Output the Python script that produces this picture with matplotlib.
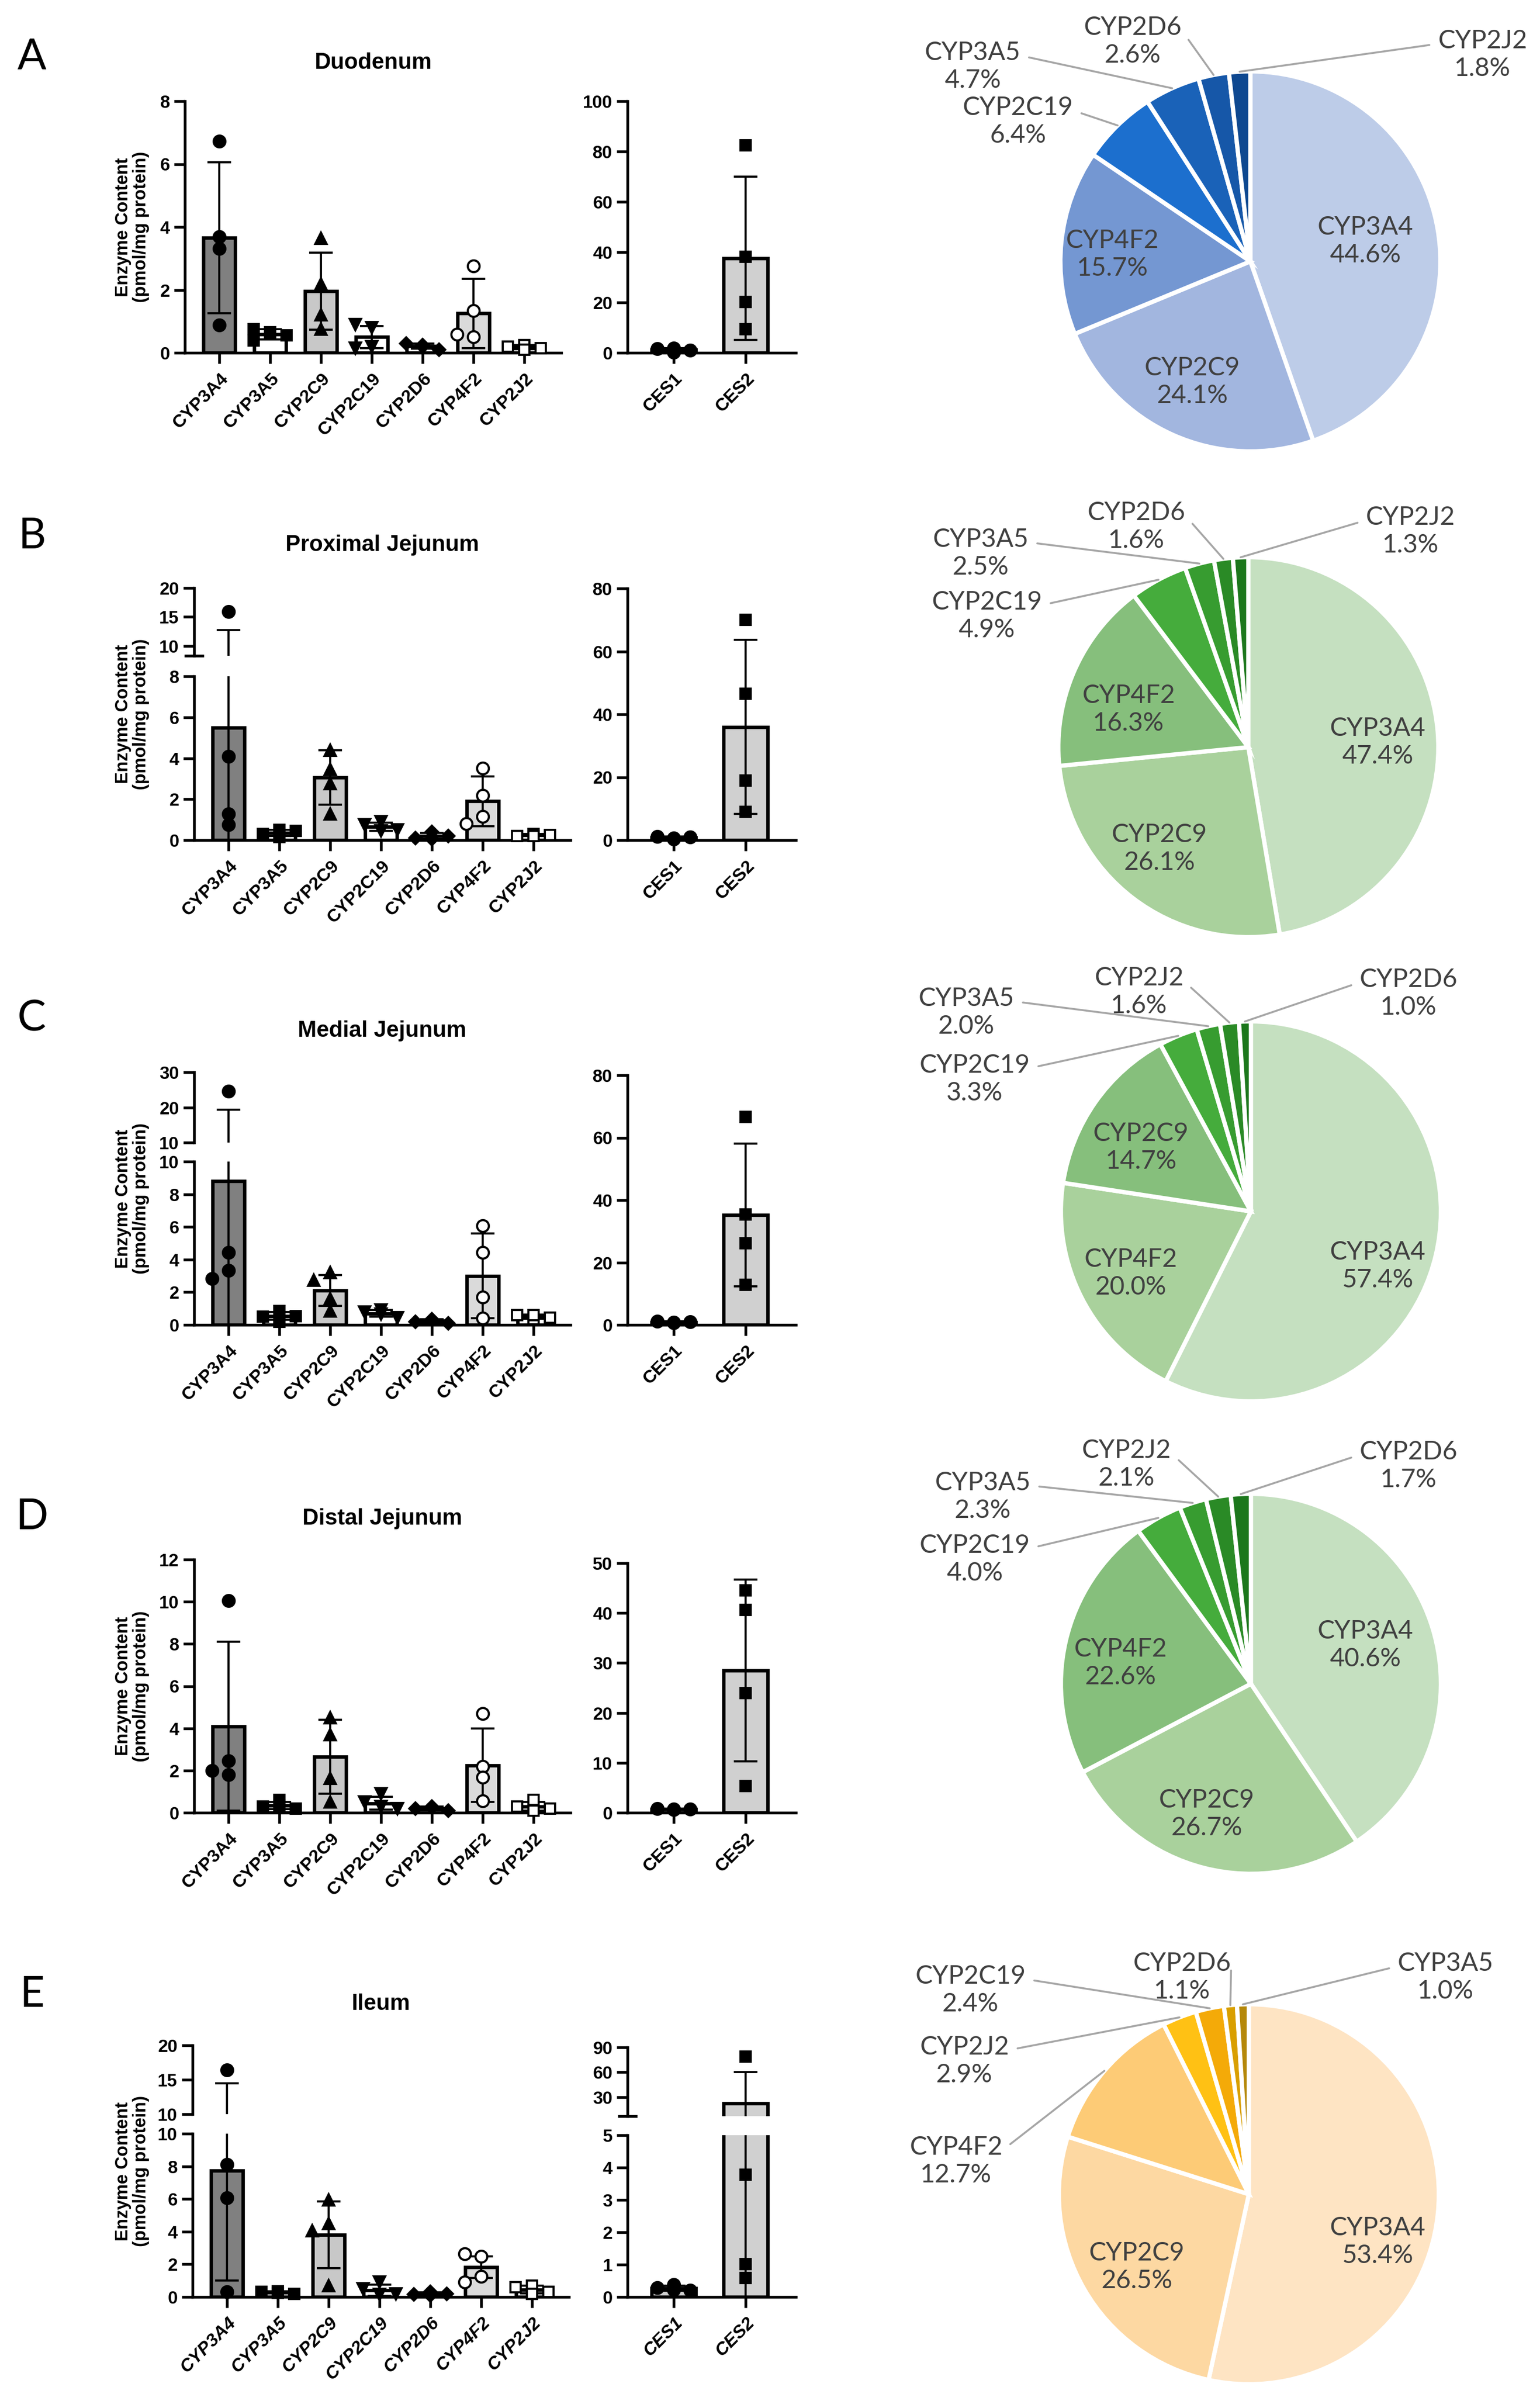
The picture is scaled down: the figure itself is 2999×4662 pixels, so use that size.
import numpy as np
import matplotlib
matplotlib.use("Agg")
import matplotlib.pyplot as plt

plt.rcParams['font.family'] = ['Liberation Sans', 'DejaVu Sans']

# ---------------- data ----------------
cyp_names = ['CYP3A4', 'CYP3A5', 'CYP2C9', 'CYP2C19', 'CYP2D6', 'CYP4F2', 'CYP2J2']
ces_names = ['CES1', 'CES2']
region_titles = ['Duodenum', 'Proximal Jejunum', 'Medial Jejunum', 'Distal Jejunum', 'Ileum']
panel_letters = ['A', 'B', 'C', 'D', 'E']

# Duodenum
duo_cyp_mean = [3.65, 0.59, 1.96, 0.50, 0.21, 1.25, 0.18]
duo_cyp_sd = [2.40, 0.16, 1.23, 0.35, 0.08, 1.10, 0.07]
duo_cyp_pts = [[6.72, 3.69, 3.31, 0.88], [0.65, 0.40, 0.55, 0.75], [3.64, 2.18, 1.21, 0.75],
               [0.80, 0.90, 0.20, 0.15], [0.25, 0.30, 0.10, 0.20], [2.76, 1.34, 0.50, 0.59],
               [0.25, 0.20, 0.15, 0.10]]
duo_ces_mean = [1.2, 37.5]
duo_ces_sd = [0.7, 32.4]
duo_ces_pts = [[0.2, 1.6, 1.1, 1.8], [82.4, 38.2, 20.2, 9.4]]

# Proximal jejunum
prox_cyp_mean = [5.50, 0.35, 3.05, 0.65, 0.19, 1.90, 0.24]
prox_cyp_sd = [7.20, 0.15, 1.33, 0.20, 0.15, 1.22, 0.05]
prox_cyp_pts = [[15.9, 4.10, 1.29, 0.75], [0.50, 0.30, 0.45, 0.15], [4.40, 3.45, 2.77, 1.29],
                [0.90, 0.75, 0.50, 0.45], [0.40, 0.10, 0.20, 0.05], [3.50, 2.19, 1.15, 0.81],
                [0.30, 0.20, 0.25, 0.20]]
prox_ces_mean = [0.8, 36.0]
prox_ces_sd = [0.4, 27.6]
prox_ces_pts = [[0.3, 1.2, 0.9, 0.6], [70.0, 46.5, 19.0, 9.0]]

# Medial jejunum
med_cyp_mean = [8.80, 0.55, 2.10, 0.70, 0.24, 3.00, 0.50]
med_cyp_sd = [10.5, 0.25, 0.95, 0.20, 0.10, 2.60, 0.12]
med_cyp_pts = [[24.6, 4.44, 3.34, 2.82], [0.20, 0.50, 0.85, 0.55], [3.20, 2.75, 1.60, 0.85],
               [0.90, 0.80, 0.45, 0.65], [0.30, 0.20, 0.10, 0.35], [6.06, 4.44, 1.69, 0.42],
               [0.35, 0.60, 0.45, 0.60]]
med_ces_mean = [0.9, 35.2]
med_ces_sd = [0.2, 22.9]
med_ces_pts = [[0.8, 1.2, 1.0, 0.7], [66.7, 35.4, 26.2, 12.9]]

# Distal jejunum
dis_cyp_mean = [4.10, 0.35, 2.65, 0.45, 0.20, 2.25, 0.30]
dis_cyp_sd = [4.00, 0.17, 1.75, 0.30, 0.08, 1.75, 0.20]
dis_cyp_pts = [[10.05, 2.45, 2.00, 1.80], [0.60, 0.30, 0.20, 0.35], [4.50, 3.70, 1.64, 0.50],
               [0.90, 0.50, 0.30, 0.20], [0.25, 0.20, 0.10, 0.30], [4.69, 2.20, 1.69, 0.55],
               [0.60, 0.30, 0.20, 0.10]]
dis_ces_mean = [0.7, 28.5]
dis_ces_sd = [0.1, 18.2]
dis_ces_pts = [[0.6, 0.8, 0.7, 0.7], [44.5, 40.6, 24.0, 5.3]]

# Ileum
ile_cyp_mean = [7.75, 0.28, 3.80, 0.42, 0.19, 1.82, 0.45]
ile_cyp_sd = [6.75, 0.06, 2.05, 0.35, 0.08, 0.67, 0.24]
ile_cyp_pts = [[16.4, 8.10, 6.06, 0.33], [0.35, 0.30, 0.20, 0.25], [5.95, 4.50, 4.06, 0.68],
               [0.90, 0.50, 0.15, 0.20], [0.30, 0.15, 0.20, 0.10], [2.50, 2.65, 1.25, 0.90],
               [0.70, 0.60, 0.30, 0.20]]
ile_ces_mean = [0.27, 22.5]
ile_ces_sd = [0.08, 37.5]
ile_ces_pts = [[0.38, 0.28, 0.20, 0.22], [79.0, 3.78, 1.02, 0.58]]

# Pie charts (percent of total CYP content, in clockwise order)
pie_A_labels = ['CYP3A4', 'CYP2C9', 'CYP4F2', 'CYP2C19', 'CYP3A5', 'CYP2D6', 'CYP2J2']
pie_A_pct = [44.6, 24.1, 15.7, 6.4, 4.7, 2.6, 1.8]
pie_B_labels = ['CYP3A4', 'CYP2C9', 'CYP4F2', 'CYP2C19', 'CYP3A5', 'CYP2D6', 'CYP2J2']
pie_B_pct = [47.4, 26.1, 16.3, 4.9, 2.5, 1.6, 1.3]
pie_C_labels = ['CYP3A4', 'CYP4F2', 'CYP2C9', 'CYP2C19', 'CYP3A5', 'CYP2J2', 'CYP2D6']
pie_C_pct = [57.4, 20.0, 14.7, 3.3, 2.0, 1.6, 1.0]
pie_D_labels = ['CYP3A4', 'CYP2C9', 'CYP4F2', 'CYP2C19', 'CYP3A5', 'CYP2J2', 'CYP2D6']
pie_D_pct = [40.6, 26.7, 22.6, 4.0, 2.3, 2.1, 1.7]
pie_E_labels = ['CYP3A4', 'CYP2C9', 'CYP4F2', 'CYP2J2', 'CYP2C19', 'CYP2D6', 'CYP3A5']
pie_E_pct = [53.4, 26.5, 12.7, 2.9, 2.4, 1.1, 1.0]

# ---------------- styles ----------------
cyp_fill = ['#808080', '#ffffff', '#c8c8c8', '#ffffff', '#ffffff', '#dadada', '#ffffff']
ces_fill = ['#cfcfcf', '#d0d0d0']
marker_style = {
    'CYP3A4': ('o', 'black', 5.5), 'CYP3A5': ('s', 'black', 5.0), 'CYP2C9': ('^', 'black', 5.5),
    'CYP2C19': ('v', 'black', 5.5), 'CYP2D6': ('D', 'black', 4.2), 'CYP4F2': ('o', 'white', 5.5),
    'CYP2J2': ('s', 'white', 5.0), 'CES1': ('o', 'black', 5.5), 'CES2': ('s', 'black', 5.0)}
blue = ['#BDCCE8', '#A2B6DF', '#7497D2', '#1C6FCE', '#1A62B8', '#1657A8', '#0E4890']
green = ['#C5E0C0', '#A9D19C', '#86BF7C', '#45AC3C', '#379C30', '#2A8A26', '#1C771C']
orange = ['#FEE4C3', '#FDD8A2', '#FDCB76', '#FFC114', '#F4AA08', '#D99F00', '#B5880A']

W, H, DPI = 2999, 4662, 300
fig = plt.figure(figsize=(W / DPI, H / DPI), dpi=DPI)


def rect(x0, ytop, x1, ybot):
    return [x0 / W, 1 - ybot / H, (x1 - x0) / W, (ybot - ytop) / H]


def bar_group(xl, first, spacing, pad, segs, names, means, sds, pts, fills, italic):
    n = len(names)
    xlim = (-first / spacing, n - 1 + pad / spacing)
    xr = xl + first + (n - 1) * spacing + pad
    x = np.arange(n)

    def val_px(v):
        for s in segs:
            lo, hi = s['lim']
            if lo <= v <= hi:
                return s['bot'] - (v - lo) / (hi - lo) * (s['bot'] - s['top'])
        s = segs[-1] if v > segs[0]['lim'][1] else segs[0]
        lo, hi = s['lim']
        return s['bot'] - (v - lo) / (hi - lo) * (s['bot'] - s['top'])

    step = 16.0 / spacing
    offs = []
    for grp in pts:
        placed, o = [], []
        for v in grp:
            py = val_px(v)
            chosen = 0.0
            for c in [0.0, -step, step, -2 * step, 2 * step]:
                if all(not (abs(c - pc) < 1.05 * step and abs(py - pp) < 19) for pc, pp in placed):
                    chosen = c
                    break
            placed.append((chosen, py))
            o.append(chosen)
        offs.append(o)

    for k, s in enumerate(segs):
        lo, hi = s['lim']
        ax = fig.add_axes(rect(xl, s['top'], xr, s['bot']))
        ax.patch.set_alpha(0)
        ax.set_xlim(*xlim)
        ax.set_ylim(lo, hi)
        ax.bar(x, means, width=0.62, color=fills, edgecolor='black', linewidth=1.6, zorder=2)
        ax.errorbar(x, means, yerr=sds, fmt='none', ecolor='black', elinewidth=1.0,
                    capsize=5.5, capthick=1.0, zorder=3)
        for i, nm in enumerate(names):
            m, fc, ms = marker_style[nm]
            for v, o in zip(pts[i], offs[i]):
                inside = (lo <= v <= hi) or (k == 0 and v < lo)
                if inside:
                    ax.plot([i + o], [v], linestyle='none', marker=m, ms=ms, mfc=fc,
                            mec='black', mew=1.0, zorder=5, clip_on=False)
        for sp in ['top', 'right']:
            ax.spines[sp].set_visible(False)
        ax.spines['left'].set_linewidth(1.3)
        ax.spines['bottom'].set_linewidth(1.3)
        ax.set_yticks(s['ticks'], labels=[f'{t:g}' for t in s['ticks']],
                      fontsize=8.3, fontweight='bold')
        ax.tick_params(axis='y', which='major', direction='out', length=5, width=1.3, pad=2)
        if len(segs) > 1:
            cap = hi if k == 0 else lo
            ax.set_yticks([cap], minor=True)
            ax.tick_params(axis='y', which='minor', direction='inout', length=9, width=1.3)
        if k == 0:
            ax.set_xticks(x, labels=names, rotation=45, ha='right', rotation_mode='anchor',
                          fontsize=8.5, fontweight='bold',
                          fontstyle='italic' if italic else 'normal')
            ax.tick_params(axis='x', length=5, width=1.3, pad=3)
        else:
            ax.spines['bottom'].set_visible(False)
            ax.tick_params(axis='x', bottom=False, labelbottom=False)
    return xr


def pie_panel(cx, cy, labels, pct, colors, pos):
    r = 370.0
    x0, x1 = 1680, 2999
    ax = fig.add_axes(rect(x0, cy - 600, x1, cy + 600))
    wedges, _ = ax.pie(pct, colors=colors, startangle=90, counterclock=False, radius=1,
                       wedgeprops=dict(edgecolor='white', linewidth=2.0))
    ax.set_aspect('auto')
    ax.set_xlim((x0 - cx) / r, (x1 - cx) / r)
    ax.set_ylim(-600 / r, 600 / r)
    ax.axis('off')
    for w, nm, p in zip(wedges, labels, pct):
        txt = f'{nm}\n{p:.1f}%'
        tx, ty = pos[nm]
        kw = dict(ha='center', va='center', fontsize=12, color='#404040',
                  family=['Lato', 'DejaVu Sans'], linespacing=1.2)
        if np.hypot(tx, ty) <= 1.0:
            ax.text(tx, ty, txt, **kw)
        else:
            mid = np.deg2rad(0.5 * (w.theta1 + w.theta2))
            ax_, ay_ = np.cos(mid), np.sin(mid)
            relpos = (1.0, 0.72) if tx < ax_ else (0.0, 0.72)
            ax.annotate(txt, xy=(ax_, ay_), xytext=(tx, ty), textcoords='data',
                        arrowprops=dict(arrowstyle='-', color='#a6a6a6', lw=0.9,
                                        shrinkA=2, shrinkB=0, relpos=relpos),
                        annotation_clip=False, **kw)


panel_data = [
    (duo_cyp_mean, duo_cyp_sd, duo_cyp_pts, duo_ces_mean, duo_ces_sd, duo_ces_pts),
    (prox_cyp_mean, prox_cyp_sd, prox_cyp_pts, prox_ces_mean, prox_ces_sd, prox_ces_pts),
    (med_cyp_mean, med_cyp_sd, med_cyp_pts, med_ces_mean, med_ces_sd, med_ces_pts),
    (dis_cyp_mean, dis_cyp_sd, dis_cyp_pts, dis_ces_mean, dis_ces_sd, dis_ces_pts),
    (ile_cyp_mean, ile_cyp_sd, ile_cyp_pts, ile_ces_mean, ile_ces_sd, ile_ces_pts),
]

layout = [
    dict(letter_y=112, title_y=123, lx=360, italic=False,
         cyp=[dict(lim=(0, 8), top=197, bot=687, ticks=[0, 2, 4, 6, 8])],
         ces=[dict(lim=(0, 100), top=197, bot=687, ticks=[0, 20, 40, 60, 80, 100])]),
    dict(letter_y=1045, title_y=1062, lx=378, italic=False,
         cyp=[dict(lim=(0, 8), top=1317, bot=1636, ticks=[0, 2, 4, 6, 8]),
              dict(lim=(8.3, 20), top=1145, bot=1277, ticks=[10, 15, 20])],
         ces=[dict(lim=(0, 80), top=1146, bot=1636, ticks=[0, 20, 40, 60, 80])]),
    dict(letter_y=1985, title_y=2008, lx=378, italic=False,
         cyp=[dict(lim=(0, 10), top=2262, bot=2580, ticks=[0, 2, 4, 6, 8, 10]),
              dict(lim=(10, 30), top=2088, bot=2225, ticks=[10, 20, 30])],
         ces=[dict(lim=(0, 80), top=2094, bot=2580, ticks=[0, 20, 40, 60, 80])]),
    dict(letter_y=2955, title_y=2958, lx=378, italic=False,
         cyp=[dict(lim=(0, 12), top=3037, bot=3530, ticks=[0, 2, 4, 6, 8, 10, 12])],
         ces=[dict(lim=(0, 50), top=3044, bot=3530, ticks=[0, 10, 20, 30, 40, 50])]),
    dict(letter_y=3885, title_y=3903, lx=375, italic=True,
         cyp=[dict(lim=(0, 10), top=4155, bot=4473, ticks=[0, 2, 4, 6, 8, 10]),
              dict(lim=(10, 20), top=3983, bot=4117, ticks=[10, 15, 20])],
         ces=[dict(lim=(0, 5), top=4158, bot=4473, ticks=[0, 1, 2, 3, 4, 5]),
              dict(lim=(7, 90), top=3987, bot=4121, ticks=[30, 60, 90])]),
]

for i, (lay, dat) in enumerate(zip(layout, panel_data)):
    cm, cs, cp, em, es, ep = dat
    xr = bar_group(lay['lx'], 67, 99, 72, lay['cyp'], cyp_names, cm, cs, cp, cyp_fill, lay['italic'])
    bar_group(1222, 90, 140, 98, lay['ces'], ces_names, em, es, ep, ces_fill, lay['italic'])
    fig.text(62 / W, 1 - lay['letter_y'] / H, panel_letters[i], ha='center', va='center',
             fontsize=20, family=['Lato', 'DejaVu Sans'])
    fig.text(0.5 * (lay['lx'] + xr) / W, 1 - lay['title_y'] / H, region_titles[i],
             ha='center', va='center', fontsize=10.5, fontweight='bold')
    top = lay['cyp'][-1]['top']
    bot = lay['cyp'][0]['bot']
    fig.text(257 / W, 1 - 0.5 * (top + bot) / H, 'Enzyme Content\n(pmol/mg protein)',
             rotation=90, ha='center', va='center', fontsize=8.3, fontweight='bold',
             multialignment='center', linespacing=1.1)

pie_layout = [
    dict(cx=2435, cy=509, labels=pie_A_labels, pct=pie_A_pct, colors=blue,
         pos={'CYP3A4': (0.605, 0.105), 'CYP2C9': (-0.305, -0.635), 'CYP4F2': (-0.727, 0.035),
              'CYP2C19': (-1.224, 0.735), 'CYP3A5': (-1.462, 1.024), 'CYP2D6': (-0.619, 1.157),
              'CYP2J2': (1.222, 1.086)}),
    dict(cx=2431, cy=1455, labels=pie_B_labels, pct=pie_B_pct, colors=green,
         pos={'CYP3A4': (0.681, 0.024), 'CYP2C9': (-0.468, -0.535), 'CYP4F2': (-0.630, 0.197),
              'CYP2C19': (-1.376, 0.689), 'CYP3A5': (-1.408, 1.019), 'CYP2D6': (-0.589, 1.159),
              'CYP2J2': (0.854, 1.135)}),
    dict(cx=2436, cy=2359, labels=pie_C_labels, pct=pie_C_pct, colors=green,
         pos={'CYP3A4': (0.668, -0.289), 'CYP4F2': (-0.632, -0.327), 'CYP2C9': (-0.578, 0.335),
              'CYP2C19': (-1.454, 0.695), 'CYP3A5': (-1.497, 1.046), 'CYP2J2': (-0.589, 1.154),
              'CYP2D6': (0.830, 1.146)}),
    dict(cx=2436, cy=3279, labels=pie_D_labels, pct=pie_D_pct, colors=green,
         pos={'CYP3A4': (0.603, 0.203), 'CYP2C9': (-0.232, -0.686), 'CYP4F2': (-0.686, 0.108),
              'CYP2C19': (-1.454, 0.654), 'CYP3A5': (-1.411, 0.984), 'CYP2J2': (-0.654, 1.154),
              'CYP2D6': (0.830, 1.146)}),
    dict(cx=2432, cy=4273, labels=pie_E_labels, pct=pie_E_pct, colors=orange,
         pos={'CYP3A4': (0.678, -0.251), 'CYP2C9': (-0.589, -0.384), 'CYP4F2': (-1.541, 0.173),
              'CYP2J2': (-1.497, 0.700), 'CYP2C19': (-1.465, 1.073), 'CYP2D6': (-0.351, 1.141),
              'CYP3A5': (1.035, 1.141)}),
]
for pl in pie_layout:
    pie_panel(pl['cx'], pl['cy'], pl['labels'], pl['pct'], pl['colors'], pl['pos'])

fig.savefig('out.png', dpi=DPI, facecolor='white')
